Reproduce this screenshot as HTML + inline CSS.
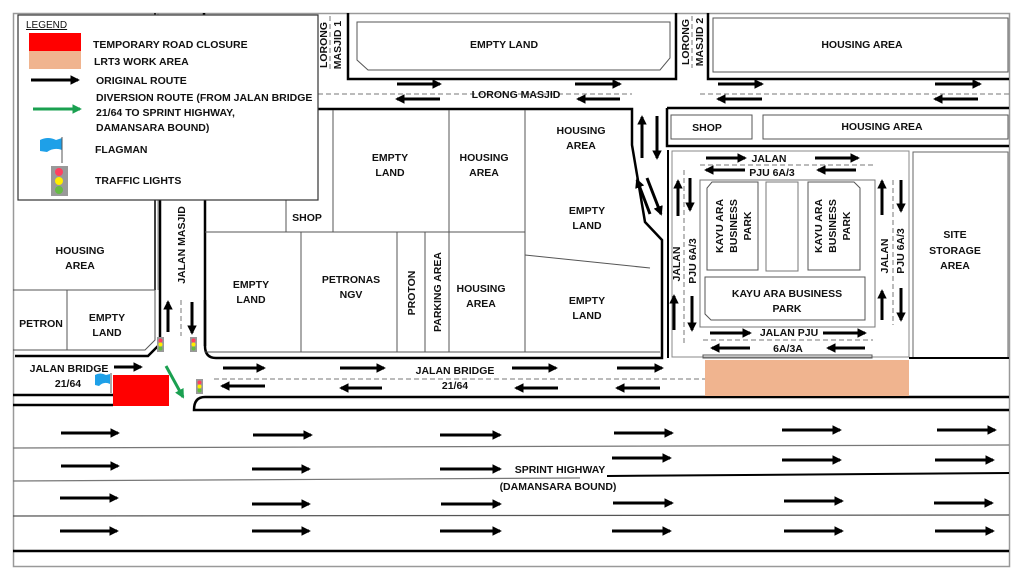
<!DOCTYPE html>
<html><head><meta charset="utf-8"><style>
html,body{margin:0;padding:0;background:#fff;}
svg{display:block;}
text{font-family:"Liberation Sans",Arial,sans-serif;font-weight:bold;font-size:10.5px;fill:#111;}
</style></head><body>
<svg width="1024" height="576" viewBox="0 0 1024 576" xmlns="http://www.w3.org/2000/svg">
<defs>
<marker id="ah" viewBox="0 0 10 10" refX="8" refY="5" markerWidth="3.2" markerHeight="3.2" orient="auto"><path d="M0,0 L10,5 L0,10 z" fill="#000"/></marker>
<marker id="gh" viewBox="0 0 10 10" refX="8" refY="5" markerWidth="3.2" markerHeight="3.2" orient="auto"><path d="M0,0 L10,5 L0,10 z" fill="#1aa050"/></marker>
</defs>
<rect x="13.5" y="13.5" width="996" height="553" fill="#fff" stroke="#999" stroke-width="1.5"/>

<g stroke="#000" fill="none">
<path d="M155,13 V290" stroke-width="1.5"/>
<path d="M158,13 V290" stroke-width="1" stroke="#888"/>
<path d="M204,13 V200" stroke-width="2.5"/>
<path d="M348,13 V79 H676 V13" stroke-width="2.5"/>
<path d="M357,22 H670 V58 L660,70 H368 L357,60 Z" stroke-width="1" stroke="#555"/>
<path d="M708,13 V79 H1009" stroke-width="2.5"/>
<rect x="713" y="18" width="295" height="54" stroke-width="1" stroke="#555"/>
<path d="M318,109 H632 V145 L645,222 L662,240 V358 H216 Q205,358 205,346 V200" stroke-width="2.5"/>
<path d="M667,108 H1009" stroke-width="2.5"/>
<path d="M667,108 V146 H1009" stroke-width="2.5"/>
<rect x="671" y="115" width="81" height="24" stroke-width="1" stroke="#555"/>
<rect x="763" y="115" width="245" height="24" stroke-width="1" stroke="#555"/>
<path d="M668,150 V358" stroke-width="2"/>
<rect x="672" y="151" width="237" height="206" stroke-width="1" stroke="#888"/>
<rect x="913" y="152" width="95" height="206" stroke-width="1" stroke="#666"/>
<path d="M909,358 H1009" stroke-width="2"/>
<rect x="700" y="180" width="175" height="147" stroke-width="1" stroke="#777"/>
<path d="M712,182 H758 V270 H707 V188 Z" stroke-width="1" stroke="#555"/>
<rect x="766" y="182" width="32" height="89" stroke-width="1" stroke="#777"/>
<path d="M808,182 H854 L860,188 V270 H808 Z" stroke-width="1" stroke="#555"/>
<path d="M705,277 H865 V320 H711 L705,314 Z" stroke-width="1" stroke="#555"/>
<path d="M703,355 H872 V358 H703 Z" stroke-width="1" stroke="#555"/>
<g stroke="#555" stroke-width="1">
<path d="M205,232 H525"/>
<path d="M286,110 V232"/><path d="M333,110 V232"/><path d="M449,110 V352"/><path d="M525,110 V352"/>
<path d="M301,232 V352"/><path d="M397,232 V352"/><path d="M425,232 V352"/>
<path d="M525,255 L650,268"/>
<path d="M205,352 H660"/>
</g>
<path d="M13,290 H155" stroke="#555" stroke-width="1"/>
<path d="M67,290 V350" stroke="#555" stroke-width="1"/>
<path d="M13,350 H145 L155,340 V290" stroke="#555" stroke-width="1"/>
<path d="M15,356 H148 L160,344 V200" stroke-width="2.5"/>
<path d="M205,300 V346" stroke-width="2.5"/>
<path d="M13,395 H113" stroke-width="2.5"/>
<path d="M13,405 H113" stroke-width="2.5"/>
<path d="M1009,397 H205 Q194,397 194,410 H1009" stroke-width="2.5"/>
<path d="M13,448 L1009,445" stroke="#777" stroke-width="1.2"/>
<path d="M13,481 L580,478" stroke="#777" stroke-width="1.2"/>
<path d="M607,476 L1009,473" stroke-width="2"/>
<path d="M13,516 L1009,515" stroke="#555" stroke-width="1.2"/>
<path d="M13,551 H1009" stroke-width="2.5"/>
</g>

<g stroke="#777" stroke-width="1" stroke-dasharray="5,3" fill="none">
<path d="M318,94 H632"/><path d="M700,94 H1009"/>
<path d="M330,16 V72"/><path d="M692,16 V68"/>
<path d="M181,300 V336"/>
<path d="M214,379 H705"/>
<path d="M700,165 H875"/>
<path d="M684,170 V345"/><path d="M893,180 V325"/>
<path d="M703,340 H873"/>
</g>

<rect x="705" y="360" width="204" height="36" fill="#f0b48f"/>
<rect x="113" y="375" width="56" height="31" fill="#ff0000"/>

<g stroke="#000" stroke-width="3" marker-end="url(#ah)" fill="none">
<path d="M397,84 H440"/><path d="M440,99 H397"/>
<path d="M575,84 H620"/><path d="M620,99 H578"/>
<path d="M718,84 H762"/><path d="M762,99 H718"/>
<path d="M935,84 H980"/><path d="M978,99 H935"/>
<path d="M642,158 V117"/><path d="M657,116 V158"/>
<path d="M650,214 L637,180"/><path d="M647,178 L661,214"/>
<path d="M706,158 H745"/><path d="M815,158 H858"/>
<path d="M745,170 H706"/><path d="M856,170 H818"/>
<path d="M678,216 V181"/><path d="M690,178 V210"/>
<path d="M674,330 V296"/><path d="M692,296 V330"/>
<path d="M882,215 V181"/><path d="M901,180 V211"/>
<path d="M882,320 V291"/><path d="M901,288 V320"/>
<path d="M710,333 H750"/><path d="M823,333 H865"/>
<path d="M750,348 H712"/><path d="M865,348 H828"/>
<path d="M168,332 V302"/><path d="M192,302 V333"/>
<path d="M114,367 H141"/>
<path d="M223,368 H264"/><path d="M340,368 H384"/><path d="M512,368 H556"/><path d="M617,368 H662"/>
<path d="M265,386 H222"/><path d="M382,388 H341"/><path d="M558,388 H516"/><path d="M660,388 H617"/>
<path d="M61,433 H118"/><path d="M253,435 H311"/><path d="M440,435 H500"/><path d="M614,433 H672"/><path d="M782,430 H840"/><path d="M937,430 H995"/>
<path d="M61,466 H118"/><path d="M252,469 H309"/><path d="M440,469 H500"/><path d="M612,458 H670"/><path d="M782,460 H840"/><path d="M935,460 H993"/>
<path d="M60,498 H117"/><path d="M252,504 H309"/><path d="M441,504 H500"/><path d="M613,503 H672"/><path d="M784,501 H842"/><path d="M934,503 H992"/>
<path d="M60,531 H117"/><path d="M252,531 H309"/><path d="M440,531 H500"/><path d="M612,531 H670"/><path d="M784,531 H842"/><path d="M935,531 H993"/>
</g>
<path d="M166,366 L183,397" stroke="#1aa050" stroke-width="3" marker-end="url(#gh)"/>

<g id="tl"><rect x="157" y="337" width="7" height="15" fill="#999"/><circle cx="160.5" cy="340.5" r="2" fill="#ff4060"/><circle cx="160.5" cy="344.5" r="2" fill="#ffee00"/><circle cx="160.5" cy="348.5" r="2" fill="#66bb44"/></g>
<use href="#tl" x="33" y="0"/><use href="#tl" x="39" y="42"/>
<path d="M95,375 Q100,372 106,375 L110,374 V384 Q104,381 99,386 L95,385 Z" fill="#1ea0e8"/><path d="M111,373 V393" stroke="#555" stroke-width="1"/>

<rect x="18" y="15" width="300" height="185" fill="#fff" stroke="#333" stroke-width="1.2"/>
<text x="26" y="28" style="font-weight:normal;font-size:10px;text-decoration:underline">LEGEND</text>
<rect x="29" y="33" width="52" height="18" fill="#ff0000"/>
<rect x="29" y="51" width="52" height="18" fill="#f0b48f"/>
<path d="M31,80 H78" stroke="#000" stroke-width="3" marker-end="url(#ah)"/>
<path d="M33,109 H80" stroke="#1aa050" stroke-width="3" marker-end="url(#gh)"/>
<path d="M40,140 Q48,136 56,140 L62,138 V150 Q54,147 47,152 L40,151 Z" fill="#1ea0e8"/><path d="M62,137 V163" stroke="#555" stroke-width="1"/>
<rect x="51" y="166" width="17" height="30" fill="#999"/><circle cx="59" cy="172" r="4" fill="#ff4060"/><circle cx="59" cy="181" r="4" fill="#ffee00"/><circle cx="59" cy="190" r="4" fill="#66bb44"/>
<text x="93" y="48">TEMPORARY ROAD CLOSURE</text>
<text x="94" y="65">LRT3 WORK AREA</text>
<text x="96" y="84">ORIGINAL ROUTE</text>
<text x="96" y="101">DIVERSION ROUTE (FROM JALAN BRIDGE</text>
<text x="96" y="116">21/64 TO SPRINT HIGHWAY,</text>
<text x="96" y="131">DAMANSARA BOUND)</text>
<text x="95" y="153">FLAGMAN</text>
<text x="95" y="184">TRAFFIC LIGHTS</text>

<g text-anchor="middle">
<text x="504" y="48">EMPTY LAND</text>
<text x="862" y="48">HOUSING AREA</text>
<text x="516" y="98">LORONG MASJID</text>
<text x="707" y="131">SHOP</text>
<text x="882" y="130">HOUSING AREA</text>
<text x="769" y="162">JALAN</text>
<text x="772" y="176">PJU 6A/3</text>
<text x="390" y="161">EMPTY</text><text x="390" y="176">LAND</text>
<text x="484" y="161">HOUSING</text><text x="484" y="176">AREA</text>
<text x="581" y="134">HOUSING</text><text x="581" y="149">AREA</text>
<text x="307" y="221">SHOP</text>
<text x="587" y="214">EMPTY</text><text x="587" y="229">LAND</text>
<text x="80" y="254">HOUSING</text><text x="80" y="269">AREA</text>
<text x="251" y="288">EMPTY</text><text x="251" y="303">LAND</text>
<text x="351" y="283">PETRONAS</text><text x="351" y="298">NGV</text>
<text x="481" y="292">HOUSING</text><text x="481" y="307">AREA</text>
<text x="587" y="304">EMPTY</text><text x="587" y="319">LAND</text>
<text x="41" y="327">PETRON</text>
<text x="107" y="321">EMPTY</text><text x="107" y="336">LAND</text>
<text x="955" y="238">SITE</text><text x="955" y="254">STORAGE</text><text x="955" y="269">AREA</text>
<text x="787" y="297">KAYU ARA BUSINESS</text><text x="787" y="312">PARK</text>
<text x="789" y="336">JALAN PJU</text><text x="788" y="352">6A/3A</text>
<text x="69" y="372">JALAN BRIDGE</text><text x="68" y="387">21/64</text>
<text x="455" y="374">JALAN BRIDGE</text><text x="455" y="389">21/64</text>
<text x="560" y="473">SPRINT HIGHWAY</text>
<text x="558" y="490">(DAMANSARA BOUND)</text>
</g>
<g text-anchor="middle">
<text transform="translate(185,245) rotate(-90)">JALAN MASJID</text>
<text transform="translate(327,45) rotate(-90)">LORONG</text>
<text transform="translate(341,45) rotate(-90)">MASJID 1</text>
<text transform="translate(689,42) rotate(-90)">LORONG</text>
<text transform="translate(703,42) rotate(-90)">MASJID 2</text>
<text transform="translate(415,293) rotate(-90)">PROTON</text>
<text transform="translate(441,292) rotate(-90)">PARKING AREA</text>
<text transform="translate(680,264) rotate(-90)">JALAN</text>
<text transform="translate(696,261) rotate(-90)">PJU 6A/3</text>
<text transform="translate(888,256) rotate(-90)">JALAN</text>
<text transform="translate(904,251) rotate(-90)">PJU 6A/3</text>
<text transform="translate(723,226) rotate(-90)">KAYU ARA</text>
<text transform="translate(737,226) rotate(-90)">BUSINESS</text>
<text transform="translate(751,226) rotate(-90)">PARK</text>
<text transform="translate(822,226) rotate(-90)">KAYU ARA</text>
<text transform="translate(836,226) rotate(-90)">BUSINESS</text>
<text transform="translate(850,226) rotate(-90)">PARK</text>
</g>
</svg>
</body></html>
